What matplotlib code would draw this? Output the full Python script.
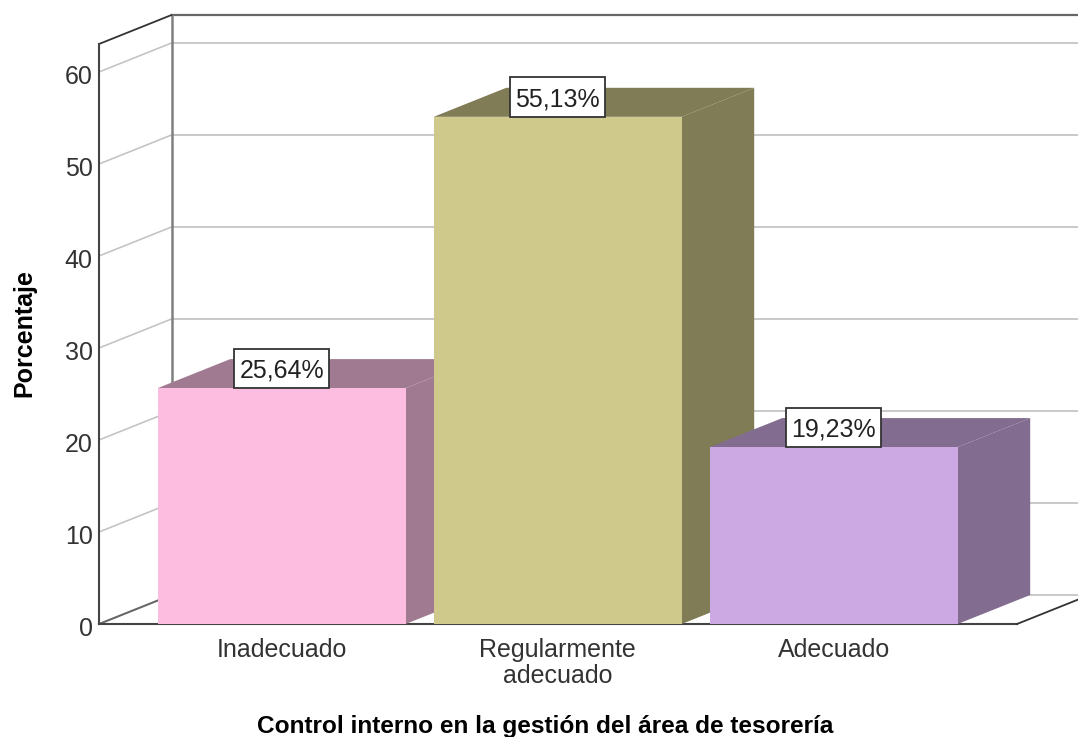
import matplotlib
matplotlib.use('Agg')
import matplotlib.pyplot as plt
from matplotlib.patches import Rectangle
from matplotlib.transforms import ScaledTranslation

plt.rcParams['font.family'] = ['Liberation Sans', 'DejaVu Sans']

categorias = ['Inadecuado', 'Regularmente\nadecuado', 'Adecuado']
porcentajes = [25.64, 55.13, 19.23]
etiquetas = ['25,64%', '55,13%', '19,23%']
ticks_y = [0, 10, 20, 30, 40, 50, 60]

frente = ['#FDBDE0', '#CFCA8C', '#CCA9E3']
lado = ['#A07A90', '#807C56', '#826C90']

W, H = 1078, 737
fig = plt.figure(figsize=(W / 100, H / 100), dpi=100)
# ejes: x de 99 a 1078 px, y de 624 a 15 px
ax = fig.add_axes([99 / W, (H - 624) / H, (W - 99) / W, (624 - 15) / H])

px_x = 276.0   # px por categoria
px_y = 9.2     # px por unidad de porcentaje
x0 = 281.7     # px de la primera categoria
xmin = (99 - x0) / px_x
xmax = (W - x0) / px_x
ax.set_xlim(xmin, xmax)
ax.set_ylim(0, 609 / px_y)

# profundidad del efecto 3D
dx = 72.5 / px_x
dy = 29 / px_y
ancho = 248 / px_x
techo = 580 / px_y
fin_piso = (1017 - x0) / px_x

for s in ax.spines.values():
    s.set_visible(False)

# rejilla en pared de fondo y pared izquierda
for t in ticks_y:
    ax.plot([xmin + dx, xmax], [t + dy, t + dy], color='#C9C9C9', lw=1.4, zorder=1, clip_on=False)
    ax.plot([xmin, xmin + dx], [t, t + dy], color='#C4C4C4', lw=1.2, zorder=1, clip_on=False)

# marco
ax.plot([xmin + dx, xmax], [techo + dy, techo + dy], color='#666666', lw=1.6, zorder=2, clip_on=False)
ax.plot([xmin + dx, xmin + dx], [dy, techo + dy], color='#808080', lw=1.8, zorder=2, clip_on=False)
ax.plot([xmin, xmin + dx], [techo, techo + dy], color='#333333', lw=1.3, zorder=2, clip_on=False)
ax.plot([xmin, xmin], [0, techo], color='#444444', lw=1.5, zorder=2, clip_on=False)
ax.plot([xmin, xmin + dx], [0, dy], color='#666666', lw=1.4, zorder=2, clip_on=False)
ax.plot([xmin, fin_piso], [0, 0], color='#444444', lw=1.5, zorder=2, clip_on=False)
ax.plot([fin_piso, fin_piso + dx], [0, dy], color='#333333', lw=1.3, zorder=2, clip_on=False)

# barras
for i, v in enumerate(porcentajes):
    z = 3 + i
    izq = i - ancho / 2
    der = i + ancho / 2
    ax.fill([der, der + dx, der + dx, der], [0, dy, v + dy, v], color=lado[i], lw=0, zorder=z)
    ax.fill([izq, izq + dx, der + dx, der], [v, v + dy, v + dy, v], color=lado[i], lw=0, zorder=z)
    ax.bar(i, v, width=ancho, color=frente[i], lw=0, zorder=z)
    # caja de la etiqueta
    caja_w = 95 / px_x
    caja_h = 39.5 / px_y
    ax.add_patch(Rectangle((i - caja_w / 2, v), caja_w, caja_h, fc='white', ec='#333333', lw=1.3,
                           zorder=10, clip_on=False))
    ax.text(i, v + caja_h / 2 - 2 / px_y, etiquetas[i], ha='center', va='center', fontsize=18,
            color='#222222', zorder=11)

ax.set_xticks(range(3))
ax.set_xticklabels(categorias, fontsize=18, color='#333333', linespacing=1.1)
ax.set_yticks(ticks_y)
ax.set_yticklabels([str(t) for t in ticks_y], fontsize=18, color='#333333')
ax.tick_params(axis='both', length=0)
ax.tick_params(axis='x', pad=10)
ax.tick_params(axis='y', pad=4.5)
baja = ScaledTranslation(0, -3 / 100, fig.dpi_scale_trans)
for lab in ax.get_yticklabels():
    lab.set_transform(lab.get_transform() + baja)

fig.text(545 / W, 1 - 726 / H, 'Control interno en la gestión del área de tesorería',
         ha='center', va='center', fontsize=17.6, fontweight='bold', color='black')
fig.text(24 / W, 1 - 333 / H, 'Porcentaje', rotation=90, ha='center', va='center',
         fontsize=18, fontweight='bold', color='black')

fig.savefig('out.png', dpi=100)
